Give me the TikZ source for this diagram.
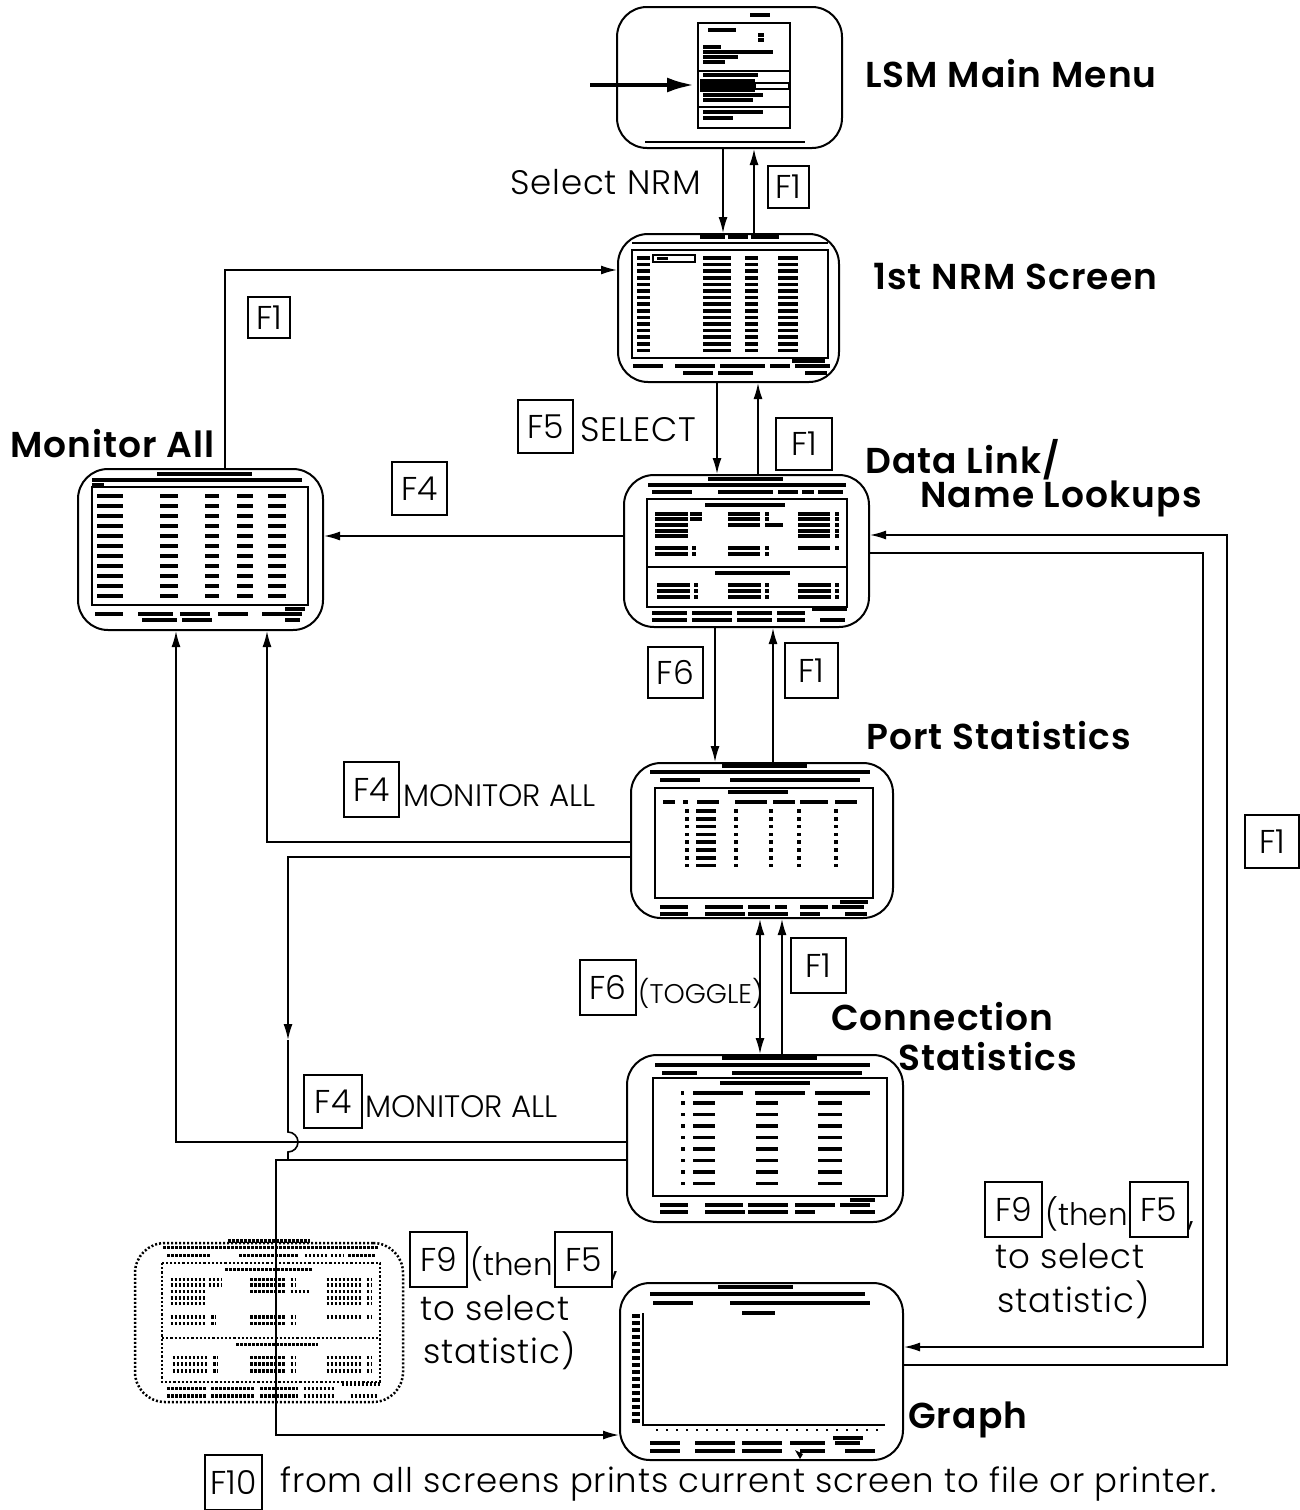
\documentclass[tikz,border=0pt]{standalone}
\usepackage{fontspec}
\setmainfont{Poppins}
\newfontfamily\lt{Poppins Light}
\newfontfamily\ltsp{Poppins Light}[LetterSpace=2.5]
\newfontfamily\bfam{Poppins SemiBold}[LetterSpace=3]
\usetikzlibrary{arrows.meta}
\newcommand\tb[3]{\draw[tbar] (#1,#2) ++(0,2) -- ++(#3,0);}
\newcommand\dlcontent{%
  \tb{708}{477}{75}\tb{648}{483}{198}\tb{652}{490}{40}\tb{718}{490}{55}\tb{778}{490}{20}\tb{802}{490}{12}\tb{818}{490}{25}
  \draw[inr] (647,499) rectangle (847,607);
  \draw[inr] (647,567) -- (847,567);
  \tb{705}{503}{80}
  \foreach \y in {512,517,523,529,534}{\tb{655}{\y}{33}\tb{798}{\y}{32}\tb{835}{\y}{4}}
  \tb{690}{512}{12}\tb{690}{517}{12}\tb{728}{512}{32}\tb{728}{517}{32}\tb{765}{512}{4}\tb{765}{517}{4}
  \tb{728}{523}{32}\tb{765}{523}{18}
  \foreach \y in {546,552}{\tb{655}{\y}{33}\tb{728}{\y}{32}\tb{692}{\y}{4}\tb{765}{\y}{4}}
  \tb{798}{546}{32}\tb{835}{546}{4}
  \tb{715}{571}{75}
  \foreach \y in {583,589,595}{\tb{657}{\y}{33}\tb{728}{\y}{33}\tb{798}{\y}{33}\tb{694}{\y}{4}\tb{765}{\y}{4}\tb{835}{\y}{4}}
  \tb{652}{611}{35}\tb{692}{611}{40}\tb{737}{611}{35}\tb{777}{611}{28}\tb{812}{607}{35}
  \tb{652}{618}{35}\tb{692}{618}{40}\tb{737}{618}{35}\tb{777}{618}{28}\tb{820}{618}{25}%
}
\begin{document}
\begin{tikzpicture}[x=1pt,y=-1pt,
  screen/.style={draw, line width=2pt, rounded corners=30pt, inner sep=0pt},
  inr/.style={draw, line width=2.5pt},
  tbar/.style={line width=3.5pt},
  conn/.style={line width=1.6pt},
  arr/.style={conn, -{Latex[length=16pt,width=9pt]}},
  arr2/.style={conn, {Latex[length=16pt,width=9pt]}-{Latex[length=16pt,width=9pt]}},
  fkey/.style={draw, line width=1.1pt, inner sep=0pt, font=\lt\fontsize{33}{33}\selectfont},
  title/.style={font=\bfam\fontsize{36}{36}\selectfont, anchor=base west, inner sep=0pt},
  lbl/.style={font=\ltsp\fontsize{34}{34}\selectfont, anchor=base west, inner sep=0pt},
  mlbl/.style={font=\lt\fontsize{31}{31}\selectfont, anchor=base west, inner sep=0pt},
  slbl/.style={font=\lt\fontsize{27}{27}\selectfont, anchor=base west, inner sep=0pt}]
\useasboundingbox (0,0) rectangle (1299,1510);
\fill[white] (0,0) rectangle (1299,1510);

% ---------- screens ----------
\node[screen, minimum width=225pt, minimum height=141pt] (lsm) at (729.5,77.5) {};
\node[screen, minimum width=221pt, minimum height=148pt] (nrm) at (728.5,308) {};
\node[screen, minimum width=245pt, minimum height=152pt] (dl) at (746.5,551) {};
\node[screen, minimum width=245pt, minimum height=161pt] (mon) at (200.5,549.5) {};
\node[screen, minimum width=262pt, minimum height=155pt] (port) at (762,840.5) {};
\node[screen, minimum width=276pt, minimum height=167pt] (conn) at (765,1138.5) {};
\node[screen, minimum width=283pt, minimum height=177pt] (graph) at (761.5,1371.5) {};
\node[screen, dotted, line width=2.5pt, minimum width=268pt, minimum height=159pt] (ghost) at (269,1322.5) {};

% LSM main menu content
\tb{750}{13}{20}
\draw[line width=2pt] (698,23) rectangle (790,128);
\draw[line width=1.5pt] (698,71) -- (790,71) (698,107) -- (790,107);
\tb{708}{28}{28}\tb{758}{33}{6}\tb{758}{38}{6}\tb{703}{45}{18}\tb{703}{50}{70}\tb{703}{55}{35}\tb{703}{60}{22}
\tb{703}{73}{55}
\fill (700,79) rectangle (755,92);
\draw[line width=1.2pt] (755,83) rectangle (789,89);
\tb{703}{93}{60}\tb{703}{98}{50}\tb{703}{110}{60}\tb{703}{116}{30}
\draw[line width=2pt] (645,142) -- (805,142);

% 1st NRM content
\tb{700}{235}{25}\tb{728}{235}{20}\tb{751}{235}{28}
\draw[line width=2pt] (632,243) -- (828,243);
\draw[line width=2.5pt] (632,250) rectangle (828,358);
\draw[line width=1.5pt] (653,255) rectangle (695,262);
\fill (657,257) rectangle (668,260);
\foreach \i in {0,...,14}{
  \pgfmathsetmacro\yy{256+6.6*\i}
  \tb{637}{\yy}{13}\tb{703}{\yy}{28}\tb{745}{\yy}{13}\tb{778}{\yy}{20}}
\tb{633}{364}{30}\tb{675}{364}{40}\tb{720}{364}{45}\tb{770}{364}{20}\tb{795}{364}{35}\tb{792}{359}{33}
\tb{683}{371}{30}\tb{718}{371}{35}\tb{805}{371}{22}

% Data Link content
\dlcontent

% Monitor All content
\tb{157}{472}{95}\tb{92}{478}{210}\tb{92}{483}{12}
\draw[line width=2.5pt] (92,487) rectangle (308,605);
\foreach \i in {0,...,10}{
  \pgfmathsetmacro\yy{494+10*\i}
  \tb{97}{\yy}{26}\tb{160}{\yy}{18}\tb{205}{\yy}{14}\tb{237}{\yy}{16}\tb{268}{\yy}{18}}
\tb{95}{612}{28}\tb{138}{612}{35}\tb{180}{612}{30}\tb{218}{612}{30}\tb{262}{612}{40}\tb{285}{607}{20}
\tb{142}{618}{35}\tb{182}{618}{30}\tb{285}{618}{15}

% Port Statistics content
\tb{722}{764}{85}\tb{650}{770}{220}\tb{660}{778}{40}\tb{730}{778}{130}
\draw[line width=2.5pt] (655,788) rectangle (873,898);
\tb{728}{790}{60}
\tb{663}{800}{12}\tb{683}{800}{5}\tb{697}{800}{22}\tb{735}{800}{32}\tb{773}{800}{22}\tb{800}{800}{28}\tb{835}{800}{22}
\foreach \i in {0,...,7}{
  \pgfmathsetmacro\yy{809+7.8*\i}
  \tb{685}{\yy}{4}\tb{696}{\yy}{20}\tb{734}{\yy}{4}\tb{769}{\yy}{4}\tb{797}{\yy}{4}\tb{834}{\yy}{4}}
\tb{660}{905}{28}\tb{705}{905}{38}\tb{748}{905}{22}\tb{775}{905}{12}\tb{800}{905}{28}\tb{840}{900}{28}\tb{832}{905}{32}
\tb{660}{912}{28}\tb{705}{912}{40}\tb{748}{912}{40}\tb{800}{912}{20}\tb{845}{912}{22}

% Connection Statistics content
\tb{722}{1056}{95}\tb{655}{1063}{215}\tb{662}{1071}{35}\tb{732}{1071}{130}
\draw[line width=2.5pt] (653,1078) rectangle (887,1196);
\tb{720}{1081}{90}
\tb{681}{1091}{3}\tb{693}{1091}{50}\tb{755}{1091}{50}\tb{815}{1091}{55}
\foreach \i in {0,...,7}{
  \pgfmathsetmacro\yy{1101+11.5*\i}
  \tb{681}{\yy}{4}\tb{693}{\yy}{22}\tb{756}{\yy}{22}\tb{818}{\yy}{24}}
\tb{850}{1198}{25}
\tb{660}{1203}{28}\tb{705}{1203}{38}\tb{748}{1203}{40}\tb{795}{1203}{40}\tb{840}{1203}{30}
\tb{660}{1210}{28}\tb{705}{1210}{40}\tb{748}{1210}{40}\tb{795}{1210}{20}\tb{850}{1210}{25}

% Graph content
\tb{718}{1285}{75}\tb{650}{1292}{215}\tb{653}{1301}{40}\tb{730}{1301}{140}\tb{742}{1311}{33}
\draw[line width=2.2pt] (643,1313) -- (643,1425) -- (885,1425);
\foreach \i in {0,...,15}{\pgfmathsetmacro\yy{1314+7*\i}\tb{632}{\yy}{8}}
\foreach \i in {0,...,22}{\fill ({656+10*\i},1429) rectangle ++(2,2);}
\tb{650}{1441}{30}\tb{695}{1441}{40}\tb{742}{1441}{40}\tb{790}{1441}{35}\tb{835}{1441}{25}\tb{833}{1436}{30}
\tb{650}{1449}{30}\tb{695}{1449}{40}\tb{742}{1449}{40}\tb{800}{1449}{25}\tb{845}{1449}{30}
\fill (795,1450) -- (803,1454) -- (800,1459) -- cycle;

% Ghost (dotted) copy of Data Link screen
\begin{scope}[shift={(162,1263)}, xscale=1.09, yscale=1.10, shift={(-647,-499)},
  tbar/.style={line width=3.5pt, dash pattern=on 2.5pt off 1.5pt},
  inr/.style={draw, line width=2.2pt, dotted}]
\dlcontent
\end{scope}

% ---------- titles ----------
\node[title] (tLSM) at (865,87) {LSM Main Menu};
\node[title] (tNRM) at (873,289) {1st NRM Screen};
\node[title] (tMON) at (10,457) {Monitor All};
\node[title] (tDL1) at (865,473) {Data Link/};
\node[title] (tDL2) at (920,507) {Name Lookups};
\node[title] (tPS) at (866,749) {Port Statistics};
\node[title] (tCS1) at (831,1030) {Connection};
\node[title] (tCS2) at (898,1070) {Statistics};
\node[title] (tGR) at (908,1428) {Graph};

% ---------- key boxes ----------
\node[fkey, minimum width=41pt, minimum height=42pt] (k1) at (788.5,187) {F1};
\node[fkey, minimum width=42pt, minimum height=41pt] (k2) at (269,317.5) {F1};
\node[fkey, minimum width=55pt, minimum height=53pt] (k3) at (545.5,426.5) {F5};
\node[fkey, minimum width=56pt, minimum height=52pt] (k4) at (804,444) {F1};
\node[fkey, minimum width=55pt, minimum height=53pt] (k5) at (419.5,488.5) {F4};
\node[fkey, minimum width=55pt, minimum height=51pt] (k6) at (675.5,672.5) {F6};
\node[fkey, minimum width=53pt, minimum height=55pt] (k7) at (811.5,670.5) {F1};
\node[fkey, minimum width=55pt, minimum height=55pt] (k8) at (371.5,789.5) {F4};
\node[fkey, minimum width=54pt, minimum height=53pt] (k9) at (1272,841.5) {F1};
\node[fkey, minimum width=56pt, minimum height=55pt] (k10) at (608,987.5) {F6};
\node[fkey, minimum width=55pt, minimum height=55pt] (k11) at (818.5,965.5) {F1};
\node[fkey, minimum width=58pt, minimum height=53pt] (k12) at (333,1101.5) {F4};
\node[fkey, minimum width=57pt, minimum height=55pt] (k13) at (1013.5,1209.5) {F9};
\node[fkey, minimum width=58pt, minimum height=55pt] (k14) at (1159,1209.5) {F5};
\node[fkey, minimum width=57pt, minimum height=55pt] (k15) at (438.5,1259.5) {F9};
\node[fkey, minimum width=57pt, minimum height=55pt] (k16) at (583.5,1259.5) {F5};
\node[fkey, minimum width=57pt, minimum height=55pt] (k17) at (233.5,1482.5) {F10};

% ---------- labels ----------
\node[lbl] (lSel) at (510,194) {Select NRM};
\node[lbl] (lSel2) at (580,441) {SELECT};
\node[mlbl] (lMon1) at (403,806) {MONITOR ALL};
\node[mlbl] (lMon2) at (365,1117) {MONITOR ALL};
\node[slbl] (lTog) at (638,1003) {(TOGGLE)};
\node[mlbl] (lThen1) at (1045,1225) {(then};
\node[lbl] (lComma1) at (1188,1225) {,};
\node[lbl] (lTo1) at (995,1268) {to select};
\node[lbl] (lSt1) at (997,1312) {statistic)};
\node[mlbl] (lThen2) at (470,1275) {(then};
\node[lbl] (lComma2) at (612,1275) {,};
\node[lbl] (lTo2) at (420,1320) {to select};
\node[lbl] (lSt2) at (423,1363) {statistic)};
\node[lbl] (lF10) at (280,1492) {from all screens prints current screen to file or printer.};

% ---------- helper coordinates ----------
\coordinate (X723) at (723,0); \coordinate (X754) at (754,0);
\coordinate (X717) at (717,0); \coordinate (X758) at (758,0);
\coordinate (X715) at (715,0); \coordinate (X773) at (773,0);
\coordinate (X760) at (760,0); \coordinate (X782) at (782,0);
\coordinate (X225) at (225,0); \coordinate (X267) at (267,0);
\coordinate (X176) at (176,0);
\coordinate (Y536) at (0,536); \coordinate (Y270) at (0,270);
\coordinate (Y842) at (0,842); \coordinate (Y857) at (0,857);
\coordinate (Y1142) at (0,1142); \coordinate (Y1160) at (0,1160);
\coordinate (hop) at (288,1040);
\coordinate (n1) at (276,1160); \coordinate (n2) at (276,1435);
\coordinate (o1) at (1203,553); \coordinate (o2) at (1203,1347);
\coordinate (p1) at (1227,1365); \coordinate (p2) at (1227,535);
\coordinate (ptr) at (590,85); \coordinate (ptrend) at (695,85);

% ---------- connectors ----------
\draw[line width=4.5pt, -{Latex[length=28pt,width=15pt]}] (ptr) -- (ptrend);
\draw[arr] (lsm.south -| X723) -- (nrm.north -| X723);
\draw[arr] (nrm.north -| X754) -- (lsm.south -| X754);
\draw[arr] (nrm.south -| X717) -- (dl.north -| X717);
\draw[arr] (dl.north -| X758) -- (nrm.south -| X758);
\draw[arr] (dl.south -| X715) -- (port.north -| X715);
\draw[arr] (port.north -| X773) -- (dl.south -| X773);
\draw[arr2] (conn.north -| X760) -- (port.south -| X760);
\draw[arr] (conn.north -| X782) -- (port.south -| X782);
\draw[arr] (dl.west |- Y536) -- (mon.east |- Y536);
\draw[arr] (mon.north -| X225) |- (nrm.west |- Y270);
\draw[arr] (port.west |- Y842) -| (mon.south -| X267);
\draw[arr] (port.west |- Y857) -| (hop);
\draw[conn] (hop) -- ++(0,92) arc[start angle=-90, end angle=90, radius=10] -- (hop |- n1);
\draw[arr] (conn.west |- Y1142) -| (mon.south -| X176);
\draw[arr] (conn.west |- Y1160) -- (n1) -- (n2) -- (graph.west |- n2);
\draw[arr] (dl.east |- o1) -- (o1) -- (o2) -- (graph.east |- o2);
\draw[arr] (graph.east |- p1) -- (p1) -- (p2) -- (dl.east |- p2);
\end{tikzpicture}
\end{document}
